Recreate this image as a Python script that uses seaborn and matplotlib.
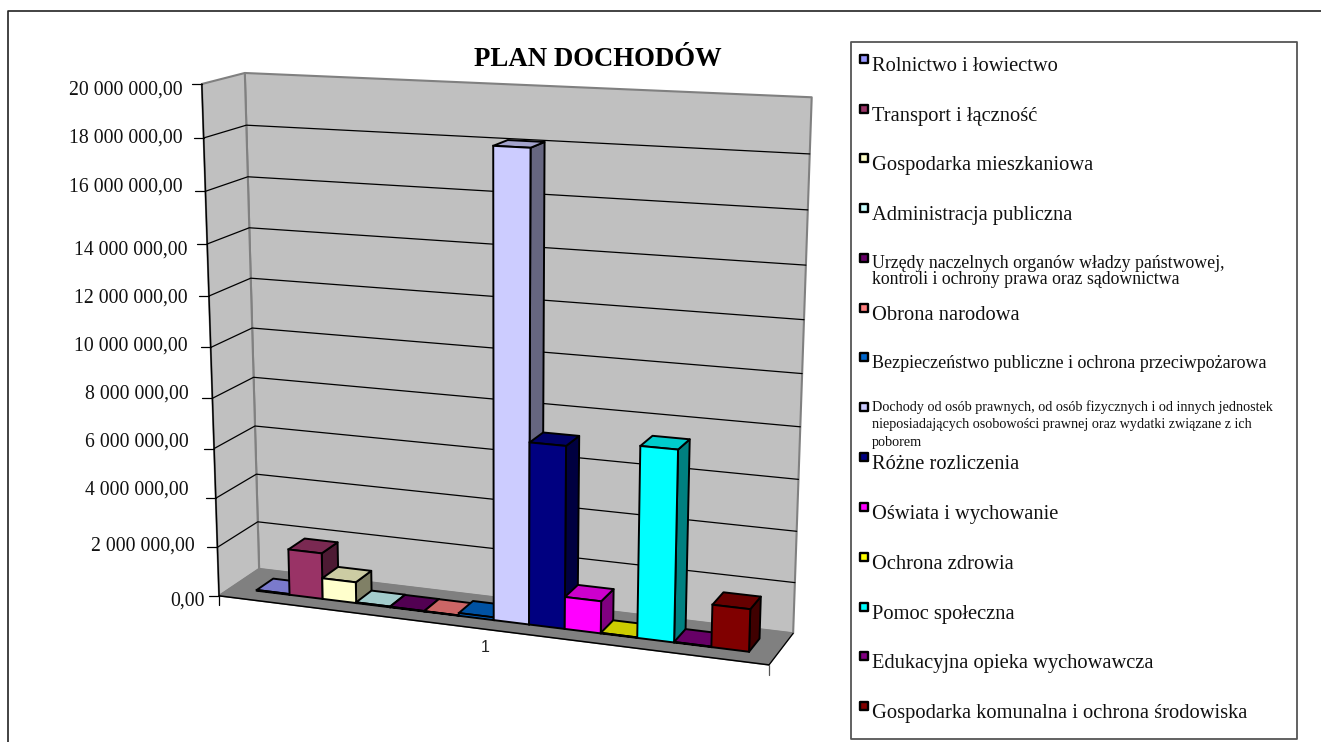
import matplotlib.pyplot as plt
import numpy as np
import pandas as pd
import seaborn as sns
from matplotlib.patches import Polygon
from matplotlib.transforms import Affine2D, Transform

W, H = 1321, 742
SERIF = "Liberation Serif"

categories = [
    "Rolnictwo i łowiectwo",
    "Transport i łączność",
    "Gospodarka mieszkaniowa",
    "Administracja publiczna",
    "Urzędy naczelnych organów władzy państwowej,\nkontroli i ochrony prawa oraz sądownictwa",
    "Obrona narodowa",
    "Bezpieczeństwo publiczne i ochrona przeciwpożarowa",
    "Dochody od osób prawnych, od osób fizycznych i od innych jednostek\nnieposiadających osobowości prawnej oraz wydatki związane z ich\npoborem",
    "Różne rozliczenia",
    "Oświata i wychowanie",
    "Ochrona zdrowia",
    "Pomoc społeczna",
    "Edukacyjna opieka wychowawcza",
    "Gospodarka komunalna i ochrona środowiska",
]
plan = [30000, 1870000, 850000, 30000, 20000, 15000, 110000,
        18100000, 7150000, 1270000, 20000, 7420000, 20000, 1650000]
colors = ["#9999FF", "#993366", "#FFFFCC", "#CCFFFF", "#660066", "#FF8080", "#0066CC",
          "#CCCCFF", "#000080", "#FF00FF", "#FFFF00", "#00FFFF", "#800080", "#800000"]
yticks = [0, 2e6, 4e6, 6e6, 8e6, 10e6, 12e6, 14e6, 16e6, 18e6, 20e6]
ytick_labels = ["0,00", "2 000 000,00", "4 000 000,00", "6 000 000,00", "8 000 000,00",
                "10 000 000,00", "12 000 000,00", "14 000 000,00", "16 000 000,00",
                "18 000 000,00", "20 000 000,00"]

# the tick labels do not sit on their ticks in the original
label_right = [205, 195, 189, 189, 189, 188, 188, 188, 183, 183, 183]
label_y = [600, 545, 489, 441, 393, 345, 297, 249, 186, 137, 89]

# box corners of the 3d plot: (across, up, depth) -> picture pixel
box_uvw = [(0, 0, 0), (1, 0, 0), (0, 1, 0), (0, 0, 1), (1, 0, 1), (0, 1, 1), (1, 1, 1),
           (0, .1, 0), (0, .9, 0), (0, .1, 1), (0, .9, 1), (1, .1, 1), (1, .9, 1)]
box_px = [(219, 596), (769, 665), (202, 84), (259, 568), (793, 633), (245, 73), (812, 99),
          (217.5, 547), (203.5, 138), (258, 523), (246, 125), (795, 583), (809.5, 152)]

rows, rhs = [], []
for (u, v, w), (px, py) in zip(box_uvw, box_px):
    rows.append([u, v, w, 1, 0, 0, 0, 0, -px * u, -px * v, -px * w])
    rows.append([0, 0, 0, 0, u, v, w, 1, -py * u, -py * v, -py * w])
    rhs += [px, py]
sol = np.linalg.lstsq(np.array(rows), np.array(rhs, float), rcond=None)[0]
P = np.append(sol, 1).reshape(3, 4)


def project(u, v, w):
    q = P @ np.array([u, v, w, 1.0])
    return q[0] / q[2], q[1] / q[2]


XMIN, XMAX = -1.28, 14.22
YMAX = 20e6
W0, W1 = 0.3, 0.72
to_px = Affine2D().scale(1, -1).translate(0, H)


def uv(x, y):
    return (x - XMIN) / (XMAX - XMIN), y / YMAX


class FrontFace(Transform):
    input_dims = output_dims = 2

    def transform_non_affine(self, values):
        pts = [project(*uv(x, y), W0) for x, y in values]
        return to_px.transform(np.array(pts))


sns.set_theme(style="white")
plt.rcParams["font.family"] = [SERIF, "DejaVu Serif"]

fig = plt.figure(figsize=(W / 100, H / 100), dpi=100)
ax = fig.add_axes([0, 0, 1, 1])
df = pd.DataFrame({"kategoria": categories, "plan": plan})
sns.barplot(data=df, x="kategoria", y="plan", hue="kategoria", palette=colors,
            saturation=1, width=1, edgecolor="black", linewidth=1.4, legend=False, ax=ax)
ax.set_xlim(XMIN, XMAX)
ax.set_ylim(0, YMAX)
ax.set_axis_off()


def poly(pts, color, z, edge="none", lw=0):
    ax.add_patch(Polygon(pts, closed=True, facecolor=color, edgecolor=edge, linewidth=lw,
                         transform=to_px, clip_on=False, zorder=z, joinstyle="round"))


def line(pts, color="black", lw=1.1, z=2):
    xs, ys = zip(*pts)
    ax.plot(xs, ys, color=color, lw=lw, transform=to_px, clip_on=False, zorder=z)


# walls and floor
poly([project(0, 0, 1), project(1, 0, 1), project(1, 1, 1), project(0, 1, 1)], "#C0C0C0", 1, "#808080", 1.5)
poly([project(0, 0, 0), project(0, 0, 1), project(0, 1, 1), project(0, 1, 0)], "#C0C0C0", 1, "#808080", 1.5)
poly([project(0, 0, 0), project(1, 0, 0), project(1, 0, 1), project(0, 0, 1)], "#808080", 1, "#808080", 1)

for t, lab, lx, ly in zip(yticks, ytick_labels, label_right, label_y):
    v = t / YMAX
    fx, fy = project(0, v, 0)
    line([(fx - 10, fy), (fx, fy)], lw=0.9)
    ax.text(lx, ly + 1.5, lab, ha="right", va="center", fontsize=14.2, color="#111111", transform=to_px)
    if 0 < v < 1:
        line([(fx, fy), project(0, v, 1), project(1, v, 1)], lw=0.9)

line([project(0, 0, 0), project(0, 1, 0)], lw=1.0)
line([project(0, 0, 0), project(1, 0, 0)], lw=1.1)
line([project(1, 0, 0), project(1, 0, 1)], lw=0.9)
fx, fy = project(0, 0, 0)
line([(fx, fy), (fx, fy + 9)], lw=0.9)
fx, fy = project(1, 0, 0)
line([(fx, fy), (fx, fy + 10)], color="#555555", lw=0.9)

# bars: seaborn draws the front faces, depth faces are built from the same rectangles
front = FrontFace()
bars = [c[0] for c in ax.containers]
for i, (bar, col) in enumerate(zip(bars, colors)):
    x0, x1 = bar.get_x(), bar.get_x() + bar.get_width()
    top = bar.get_height()
    rgb = np.array(plt.matplotlib.colors.to_rgb(col))
    u0, v1 = uv(x0, top)
    u1, _ = uv(x1, top)
    poly([project(u1, 0, W0), project(u1, 0, W1), project(u1, v1, W1), project(u1, v1, W0)],
         rgb * 0.5, 10 + i * 3, "black", 1.4)
    poly([project(u0, v1, W0), project(u1, v1, W0), project(u1, v1, W1), project(u0, v1, W1)],
         rgb * 0.8, 11 + i * 3, "black", 1.4)
    bar.set_transform(front)
    bar.set_clip_on(False)
    bar.set_zorder(12 + i * 3)

ax.text(485, 648, "1", ha="center", va="center", fontsize=11.5, family="Liberation Sans",
        color="#222222", transform=to_px)
ax.text(598, 59.5, "PLAN DOCHODÓW", ha="center", va="center", fontsize=19.3, fontweight="bold",
        color="black", transform=to_px)

# legend
legend_y = [65, 115, 164, 214, 270, 314, 362, 423, 463, 513, 563, 613, 662, 712]
marker_y = [59, 109, 158, 208, 258, 308, 357, 407, 457, 507, 557, 607, 656, 706]
legend_size = [14.8, 14.8, 14.8, 14.8, 12.8, 14.8, 13, 10.2, 14.8, 14.8, 14.8, 14.8, 14.8, 14.8]
legend_ls = [1, 1, 1, 1, 0.85, 1, 1, 1.42, 1, 1, 1, 1, 1, 1]
poly([(851, 42), (1297, 42), (1297, 739), (851, 739)], "white", 1, "#555555", 1.3)
for name, col, ty, my, fs, ls in zip(categories, colors, legend_y, marker_y, legend_size, legend_ls):
    poly([(860, my - 4), (868, my - 4), (868, my + 4), (860, my + 4)], col, 3, "black", 1.7)
    ax.text(872, ty + 1.5, name, ha="left", va="center", fontsize=fs, linespacing=ls, color="#111111", transform=to_px)

# outer frame
line([(8, H), (8, 11), (W, 11)], color="#222222", lw=1.2)

fig.savefig("out.png", dpi=100, facecolor="white")
